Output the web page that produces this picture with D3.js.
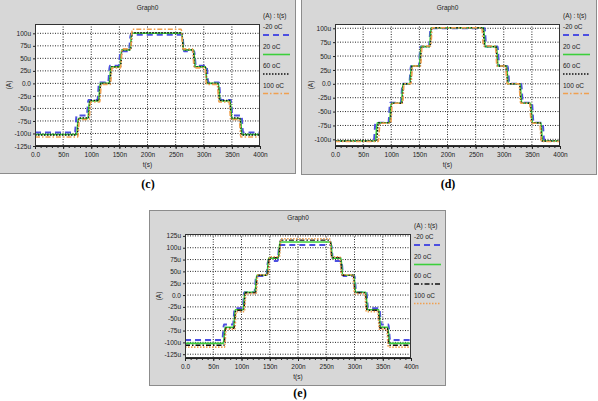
<!DOCTYPE html>
<html lang="en">
<head>
    <meta charset="UTF-8">
    <title>Graph0 - temperature sweeps</title>
    <script src="https://d3js.org/d3.v7.min.js"></script>
    <style>
        body { margin: 0; background: #fff; }
        text { font-family: "Liberation Sans", Arial, sans-serif; fill: #222; }
        .axis text { font-size: 6.5px; }
        .axis path, .axis line { stroke: #222; }
        .caption { font-family: "Liberation Serif", serif; font-weight: bold; font-size: 12px; fill: #000; }
    </style>
</head>
<body>
    <svg id="chart"></svg>

    <script>
        // ---- data ----
        const seriesNames = ["-20 oC", "20 oC", "60 oC", "100 oC"];
        const xTicks = [0, 50, 100, 150, 200, 250, 300, 350, 400];
        const xTickLabels = ["0.0", "50n", "100n", "150n", "200n", "250n", "300n", "350n", "400n"];

        const yTicksC = [100, 75, 50, 25, 0, -25, -50, -75, -100, -125];
        const yTicksD = [100, 75, 50, 25, 0, -25, -50, -75, -100];
        const yTicksE = [125, 100, 75, 50, 25, 0, -25, -50, -75, -100, -125];

        // switching times (ns): 6 rising edges then 6 falling edges, one row per series
        const edgesC = [
            [71, 92, 111, 130, 149, 167, 262, 283, 305, 327, 348, 367],
            [74, 94, 113, 132, 151, 169, 261, 282, 303, 326, 347, 365],
            [75, 95, 114, 133, 152, 170, 261, 281, 303, 325, 346, 364],
            [76, 96, 115, 134, 152, 170, 260, 280, 302, 324, 345, 363]
        ];
        // plateau currents (uA), bottom to top
        const levelsC = [
            [-98, -64, -33, 2, 35, 64, 97],
            [-102, -70, -35, 0, 33, 67, 100],
            [-103, -69, -34, 0, 33, 67, 101],
            [-107, -72, -37, -2, 31, 69, 108]
        ];

        const edgesD = [
            [69, 95, 117, 132, 149, 167, 266, 289, 307, 331, 350, 369],
            [72, 97, 118, 133, 150, 168, 264, 287, 305, 329, 348, 366],
            [74, 98, 119, 134, 151, 169, 263, 286, 304, 328, 347, 365],
            [77, 99, 120, 135, 152, 170, 261, 285, 303, 327, 346, 364]
        ];
        const levelsD = [
            [-103, -70, -34, 0, 32, 67, 100],
            [-103, -70, -35, 0, 32, 67, 101],
            [-103, -70, -35, 0, 32, 67, 101],
            [-104, -71, -35, 0, 32, 68, 101]
        ];

        const edgesE = [
            [66, 85, 102, 123, 144, 164, 259, 277, 300, 321, 344, 360],
            [68, 86, 103, 124, 145, 165, 258, 276, 299, 320, 343, 359],
            [69, 87, 104, 125, 146, 166, 257, 275, 298, 319, 342, 358],
            [70, 88, 105, 126, 147, 167, 256, 274, 297, 318, 341, 357]
        ];
        const levelsE = [
            [-95, -62, -28, 6, 40, 72, 106],
            [-102, -68, -31, 6, 42, 78, 112],
            [-106, -70, -32, 5, 42, 79, 116],
            [-110, -72, -35, 3, 43, 81, 119]
        ];

        // ---- styles ----
        const blue = "#4d4fe0", green = "#3ccf3c", black = "#111", orange = "#f0a050";
        const styleCD = [
            { color: blue, width: 2, dash: "6,4" },
            { color: green, width: 1.6, dash: null },
            { color: black, width: 1.4, dash: "1.5,1.5" },
            { color: orange, width: 1.6, dash: "5,2,1.5,2" }
        ];
        const styleE = [
            { color: blue, width: 2, dash: "6,4" },
            { color: green, width: 1.6, dash: null },
            { color: black, width: 1.4, dash: "5,2,1.5,2" },
            { color: orange, width: 1.6, dash: "1.5,1.5" }
        ];

        const panels = [
            { box: [-1, -1, 296, 174], plot: [35, 24, 225, 122], yDomain: [-125, 118.6], yTicks: yTicksC,
              edges: edgesC, levels: levelsC, styles: styleCD, caption: "(c)", capPos: [148, 188] },
            { box: [301, -1, 295, 175], plot: [335, 24, 225, 122], yDomain: [-112, 107.7], yTicks: yTicksD,
              edges: edgesD, levels: levelsD, styles: styleCD, caption: "(d)", capPos: [448, 188] },
            { box: [149, 210, 296, 175], plot: [185, 234, 226, 124], yDomain: [-133, 129], yTicks: yTicksE,
              edges: edgesE, levels: levelsE, styles: styleE, caption: "(e)", capPos: [300, 396.5] }
        ];

        const svg = d3.select("#chart")
            .attr("width", 598)
            .attr("height", 401);

        const ramp = 3; // ns, slope of each switching edge

        function buildPoints(edges, levels) {
            // level sequence: up the staircase then back down
            const seq = levels.concat(levels.slice(0, -1).reverse());
            const pts = [[0, seq[0]]];
            edges.forEach((t, k) => {
                pts.push([t, seq[k]]);
                pts.push([t + ramp, seq[k + 1]]);
            });
            pts.push([400, seq[seq.length - 1]]);
            return pts;
        }

        panels.forEach((p, pi) => {
            const g = svg.append("g");
            const [bx, by, bw, bh] = p.box;
            const [px, py, pw, ph] = p.plot;

            g.append("rect")
                .attr("x", bx + 0.5).attr("y", by + 0.5)
                .attr("width", bw).attr("height", bh)
                .attr("fill", "#d7d7d7")
                .attr("stroke", "#8c8c8c");

            g.append("text")
                .attr("x", px + pw / 2).attr("y", py - 14)
                .attr("text-anchor", "middle")
                .style("font-size", "6.5px")
                .text("Graph0");

            const x = d3.scaleLinear().domain([0, 400]).range([px, px + pw]);
            const y = d3.scaleLinear().domain(p.yDomain).range([py + ph, py]);

            g.append("rect")
                .attr("x", px).attr("y", py)
                .attr("width", pw).attr("height", ph)
                .attr("fill", "#fff");

            // dotted grid
            g.append("g").selectAll("line")
                .data(xTicks.slice(1, -1))
                .join("line")
                .attr("x1", d => x(d)).attr("x2", d => x(d))
                .attr("y1", py).attr("y2", py + ph)
                .attr("stroke", "#111").attr("stroke-width", 0.9)
                .attr("stroke-dasharray", "1,1.5");
            g.append("g").selectAll("line")
                .data(p.yTicks.filter(d => y(d) > py + 1 && y(d) < py + ph - 1))
                .join("line")
                .attr("x1", px).attr("x2", px + pw)
                .attr("y1", d => y(d)).attr("y2", d => y(d))
                .attr("stroke", "#111").attr("stroke-width", 0.9)
                .attr("stroke-dasharray", "1,1.5");

            const clipId = "clip" + pi;
            g.append("clipPath").attr("id", clipId)
                .append("rect").attr("x", px).attr("y", py).attr("width", pw).attr("height", ph);

            const line = d3.line()
                .x(d => x(d[0])).y(d => y(d[1]))
                .curve(d3.curveMonotoneX);

            g.append("g").attr("clip-path", `url(#${clipId})`)
                .selectAll("path")
                .data(seriesNames.map((n, i) => ({ name: n, pts: buildPoints(p.edges[i], p.levels[i]), st: p.styles[i] })))
                .join("path")
                .attr("d", d => line(d.pts))
                .attr("fill", "none")
                .attr("stroke", d => d.st.color)
                .attr("stroke-width", d => d.st.width)
                .attr("stroke-dasharray", d => d.st.dash);

            g.append("rect")
                .attr("x", px + 0.5).attr("y", py + 0.5)
                .attr("width", pw - 1).attr("height", ph - 1)
                .attr("fill", "none").attr("stroke", "#333");

            // axes
            g.append("g")
                .attr("class", "axis")
                .attr("transform", `translate(0,${py + ph})`)
                .call(d3.axisBottom(x).tickValues(d3.range(0, 401, 10)).tickSize(2)
                    .tickFormat(() => ""))
                .call(a => a.select(".domain").remove());
            g.append("g")
                .attr("class", "axis")
                .attr("transform", `translate(0,${py + ph})`)
                .call(d3.axisBottom(x).tickValues(xTicks).tickSize(3).tickPadding(3)
                    .tickFormat((d, i) => xTickLabels[i]));
            g.append("g")
                .attr("class", "axis")
                .attr("transform", `translate(${px},0)`)
                .call(d3.axisLeft(y).tickValues(p.yTicks).tickSize(2).tickPadding(2)
                    .tickFormat(d => d === 0 ? "0.0" : d + "u"))
                .call(a => a.select(".domain").remove());

            g.append("text")
                .attr("x", px + pw / 2).attr("y", py + ph + 21)
                .attr("text-anchor", "middle")
                .style("font-size", "6.5px")
                .text("t(s)");
            g.append("text")
                .attr("transform", `translate(${bx + 12},${py + ph / 2}) rotate(-90)`)
                .attr("text-anchor", "middle")
                .style("font-size", "6.5px")
                .text("(A)");

            // legend
            const lx = px + pw + 3;
            g.append("text")
                .attr("x", lx).attr("y", py - 6)
                .style("font-size", "6.5px")
                .text("(A) : t(s)");
            seriesNames.forEach((n, i) => {
                const st = p.styles[i];
                g.append("text")
                    .attr("x", lx).attr("y", py + 5 + i * 19.5)
                    .style("font-size", "6.5px")
                    .text(n);
                g.append("line")
                    .attr("x1", lx).attr("x2", lx + 27)
                    .attr("y1", py + 11 + i * 19.5).attr("y2", py + 11 + i * 19.5)
                    .attr("stroke", st.color)
                    .attr("stroke-width", st.width)
                    .attr("stroke-dasharray", st.dash);
            });

            svg.append("text")
                .attr("class", "caption")
                .attr("x", p.capPos[0]).attr("y", p.capPos[1])
                .attr("text-anchor", "middle")
                .text(p.caption);
        });
    </script>
</body>
</html>
